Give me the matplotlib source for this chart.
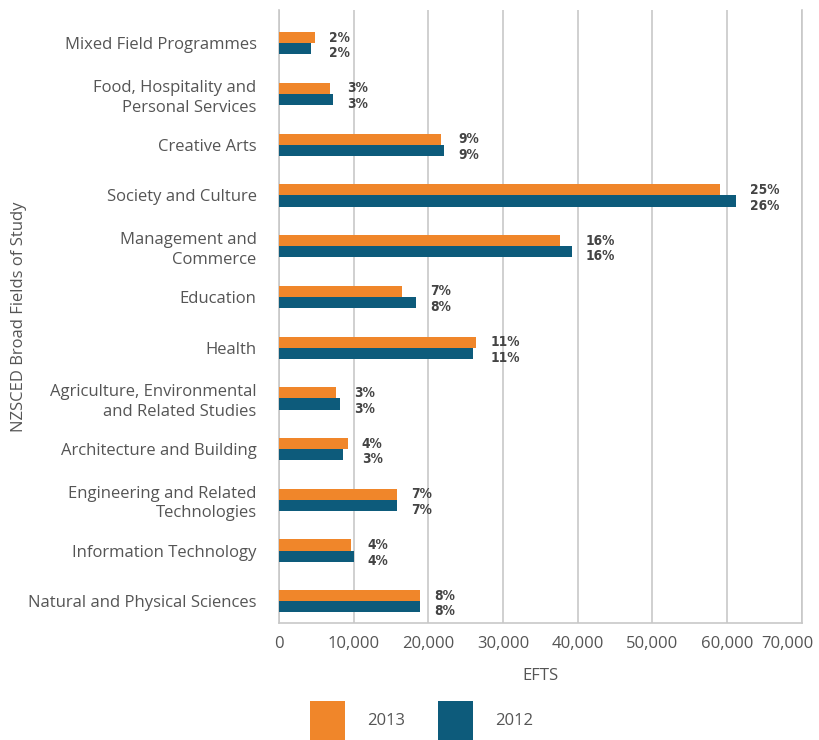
import numpy as np
import matplotlib
matplotlib.use('Agg')
import matplotlib.pyplot as plt
import matplotlib.transforms as mtransforms

plt.rcParams['font.family'] = ['Open Sans', 'DejaVu Sans']

# NZSCED broad fields, top to bottom
fields = ['Mixed Field Programmes',
          'Food, Hospitality and\nPersonal Services',
          'Creative Arts',
          'Society and Culture',
          'Management and\nCommerce',
          'Education',
          'Health',
          'Agriculture, Environmental\nand Related Studies',
          'Architecture and Building',
          'Engineering and Related\nTechnologies',
          'Information Technology',
          'Natural and Physical Sciences']

efts_2013 = [4800, 6900, 21650, 59100, 37600, 16550, 26450, 7700, 9200, 15750, 9700, 18900]
efts_2012 = [4350, 7200, 22100, 61200, 39200, 18350, 25950, 8200, 8550, 15750, 10000, 18900]
pct_2013 = [2, 3, 9, 25, 16, 7, 11, 3, 4, 7, 4, 8]
pct_2012 = [2, 3, 9, 26, 16, 8, 11, 3, 3, 7, 4, 8]

xticks = [0, 10000, 20000, 30000, 40000, 50000, 60000, 70000]

c13 = '#F0862A'
c12 = '#0D5B7B'
txt = '#555555'
gridc = '#C8C8C8'

fig = plt.figure(figsize=(8.2, 7.4), dpi=100)
ax = fig.add_axes([0.340, 0.158, 0.638, 0.828])

y = np.arange(len(fields))
h = 0.22
ax.barh(y - h/2, efts_2013, height=h, color=c13, label='2013', zorder=3)
ax.barh(y + h/2, efts_2012, height=h, color=c12, label='2012', zorder=3)

# percentage labels right of the longer bar, a bit more spread than the bars
for i in range(len(fields)):
    xr = max(efts_2013[i], efts_2012[i]) + 1900
    for yy, p in [(y[i] - 0.11, pct_2013[i]), (y[i] + 0.2, pct_2012[i])]:
        ax.text(xr, yy, '%d%%' % p, ha='left', va='center',
                fontsize=9.8, fontweight='bold', fontstretch='condensed',
                color='#444444', family=['DejaVu Sans'])

ax.set_xlim(0, 70000)
ax.set_ylim(11.43, -0.65)
ax.set_xticks(xticks)
ax.set_xticklabels(['{:,}'.format(v) for v in xticks])
ax.set_yticks(y)
ax.set_yticklabels(fields, linespacing=1.3)
ax.tick_params(axis='both', length=0, labelsize=12, labelcolor=txt)
ax.tick_params(axis='y', pad=16)
ax.tick_params(axis='x', pad=9)

# last tick label sits a bit inside the figure
lab = ax.get_xticklabels()[-1]
lab.set_transform(lab.get_transform() + mtransforms.ScaledTranslation(-0.15, 0, fig.dpi_scale_trans))

ax.grid(axis='x', color=gridc, linewidth=1.2, zorder=0)
ax.spines['top'].set_visible(False)
for s in ['left', 'bottom', 'right']:
    ax.spines[s].set_color(gridc)
    ax.spines[s].set_linewidth(1.2)

ax.set_xlabel('EFTS', fontsize=12, color=txt, labelpad=12)
ax.set_ylabel('NZSCED Broad Fields of Study', fontsize=12, color=txt)
ax.yaxis.set_label_coords(-0.482, 0.5)

fig.legend(loc='upper left', bbox_to_anchor=(0.36, 0.073), ncol=2,
           frameon=False, fontsize=12, labelcolor=txt,
           handlelength=2.1, handleheight=3.2, columnspacing=2.0, handletextpad=1.3)

fig.savefig('out.png', dpi=100)
